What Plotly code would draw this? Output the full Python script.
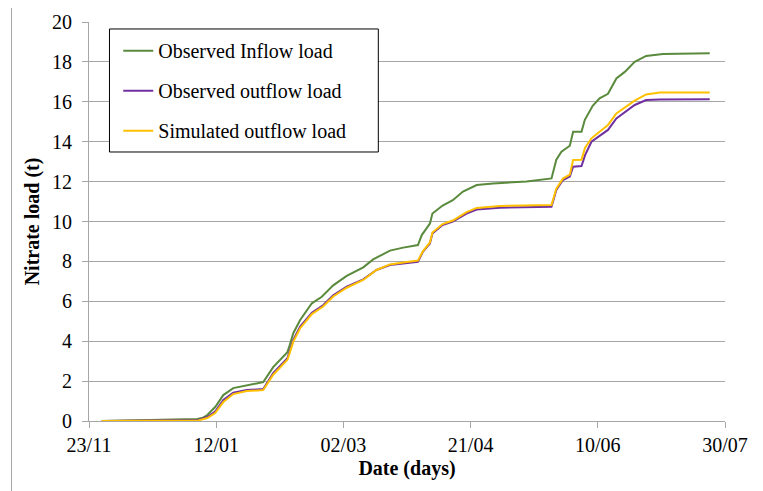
import plotly.graph_objects as go

# ---- data (days since 23/11) ----
days_in = [5, 23, 31, 42.5, 44.5, 46.5, 49.6, 52.8, 56.7, 62,
           68.5, 72.4, 75, 78, 79, 80.3, 83, 87.6, 91.5, 96,
           101.3, 107.8, 111.7, 118.3, 123.5, 129.3, 130.8, 134, 135, 139,
           143, 147, 152.4, 158.8, 172, 181.8, 183.7, 185.7, 189, 190.3,
           193.6, 194.9, 198, 200.7, 204, 207.3, 210.6, 214.5, 219, 225.6,
           244]
inflow_obs = [0, 0.05, 0.08, 0.1, 0.15, 0.3, 0.7, 1.3, 1.65, 1.8,
              1.95, 2.7, 3.06, 3.45, 3.85, 4.4, 5.06, 5.9, 6.23, 6.8,
              7.27, 7.7, 8.1, 8.54, 8.69, 8.82, 9.32, 9.9, 10.4, 10.8,
              11.07, 11.5, 11.83, 11.91, 12.0, 12.16, 13.1, 13.5, 13.8, 14.5,
              14.5, 15.1, 15.8, 16.17, 16.4, 17.17, 17.5, 18.0, 18.3, 18.4,
              18.43]

days_out = [5, 43, 46.5, 49.6, 52.8, 56.7, 62, 68.5, 72.4, 75,
            78, 79, 80.3, 83, 87.6, 92, 96, 101.3, 107.8, 113,
            118.3, 123.5, 129.3, 131.3, 134, 135, 139, 143, 148.4, 152.4,
            161.5, 181.8, 183.7, 186.3, 189, 190.3, 193.6, 195, 197.5, 200.7,
            204, 207.3, 211.2, 214.5, 219, 224.3, 244]
outflow_obs = [0, 0.05, 0.2, 0.47, 1.05, 1.42, 1.55, 1.6, 2.4, 2.75,
               3.15, 3.55, 4.06, 4.73, 5.43, 5.8, 6.3, 6.73, 7.1, 7.57,
               7.82, 7.9, 7.98, 8.49, 8.9, 9.4, 9.82, 9.99, 10.4, 10.6,
               10.69, 10.74, 11.58, 12.08, 12.25, 12.75, 12.78, 13.33, 14.0, 14.29,
               14.59, 15.17, 15.55, 15.84, 16.09, 16.12, 16.13]
outflow_sim = [0, 0.03, 0.15, 0.4, 0.95, 1.35, 1.5, 1.55, 2.32, 2.67,
               3.07, 3.45, 3.98, 4.65, 5.36, 5.74, 6.24, 6.68, 7.07, 7.57,
               7.85, 7.95, 8.04, 8.52, 8.95, 9.45, 9.87, 10.05, 10.47, 10.68,
               10.78, 10.83, 11.65, 12.15, 12.35, 13.08, 13.1, 13.7, 14.17, 14.5,
               14.84, 15.42, 15.79, 16.06, 16.37, 16.46, 16.47]

tick_days = [0, 50, 100, 150, 200, 250]
tick_labels = ["23/11", "12/01", "02/03", "21/04", "10/06", "30/07"]

FONT = "Liberation Serif, Times New Roman, DejaVu Serif, serif"
GRID = "#a6a6a6"

fig = go.Figure()
fig.add_trace(go.Scatter(x=days_in, y=inflow_obs, mode="lines",
                         name="Observed Inflow load", legendgroup="a",
                         line=dict(color="#5a8a3c", width=2)))
fig.add_trace(go.Scatter(x=days_out, y=outflow_obs, mode="lines",
                         name="Observed outflow load", legendgroup="b",
                         line=dict(color="#7030a0", width=2)))
fig.add_trace(go.Scatter(x=days_out, y=outflow_sim, mode="lines",
                         name="Simulated outflow load", legendgroup="c",
                         line=dict(color="#ffc000", width=2)))

fig.update_layout(
    width=755, height=483,
    margin=dict(l=80.5, r=38, t=14, b=70),
    paper_bgcolor="white", plot_bgcolor="white",
    font=dict(family=FONT, size=20, color="black"),
    showlegend=True,
    legend=dict(x=0.046, y=0.977, xanchor="left", yanchor="top",
                bgcolor="rgba(0,0,0,0)", borderwidth=0,
                font=dict(family=FONT, size=20, color="black"),
                tracegroupgap=11, itemwidth=30),
    xaxis=dict(range=[0, 250], tickvals=tick_days, ticktext=tick_labels,
               showgrid=False, zeroline=False, showline=True,
               linecolor=GRID, linewidth=1, ticks="outside", ticklen=6,
               tickcolor=GRID, tickfont=dict(family=FONT, size=20),
               automargin=False,
               title=dict(text="<b>Date (days)</b>", standoff=5,
                          font=dict(family=FONT, size=20))),
    yaxis=dict(range=[0, 20], dtick=2, showgrid=True, gridcolor=GRID,
               gridwidth=1, zeroline=False, showline=True, linecolor=GRID,
               linewidth=1, ticks="outside", ticklen=6, tickcolor=GRID,
               tickfont=dict(family=FONT, size=20), ticklabelstandoff=6,
               automargin=False,
               title=dict(text="<b>Nitrate load (t)</b>", standoff=7,
                          font=dict(family=FONT, size=20))),
    shapes=[
        dict(type="rect", xref="paper", yref="paper",
             x0=-0.1218, x1=1.0534, y0=-0.2, y1=1.040,
             line=dict(color=GRID, width=1), fillcolor="rgba(0,0,0,0)",
             layer="below"),
        dict(type="rect", xref="paper", yref="paper",
             x0=0.0322, x1=0.4549, y0=0.6742, y1=0.9825,
             line=dict(color="black", width=1), fillcolor="white",
             layer="above"),
    ],
)

fig.write_html("out.html")
